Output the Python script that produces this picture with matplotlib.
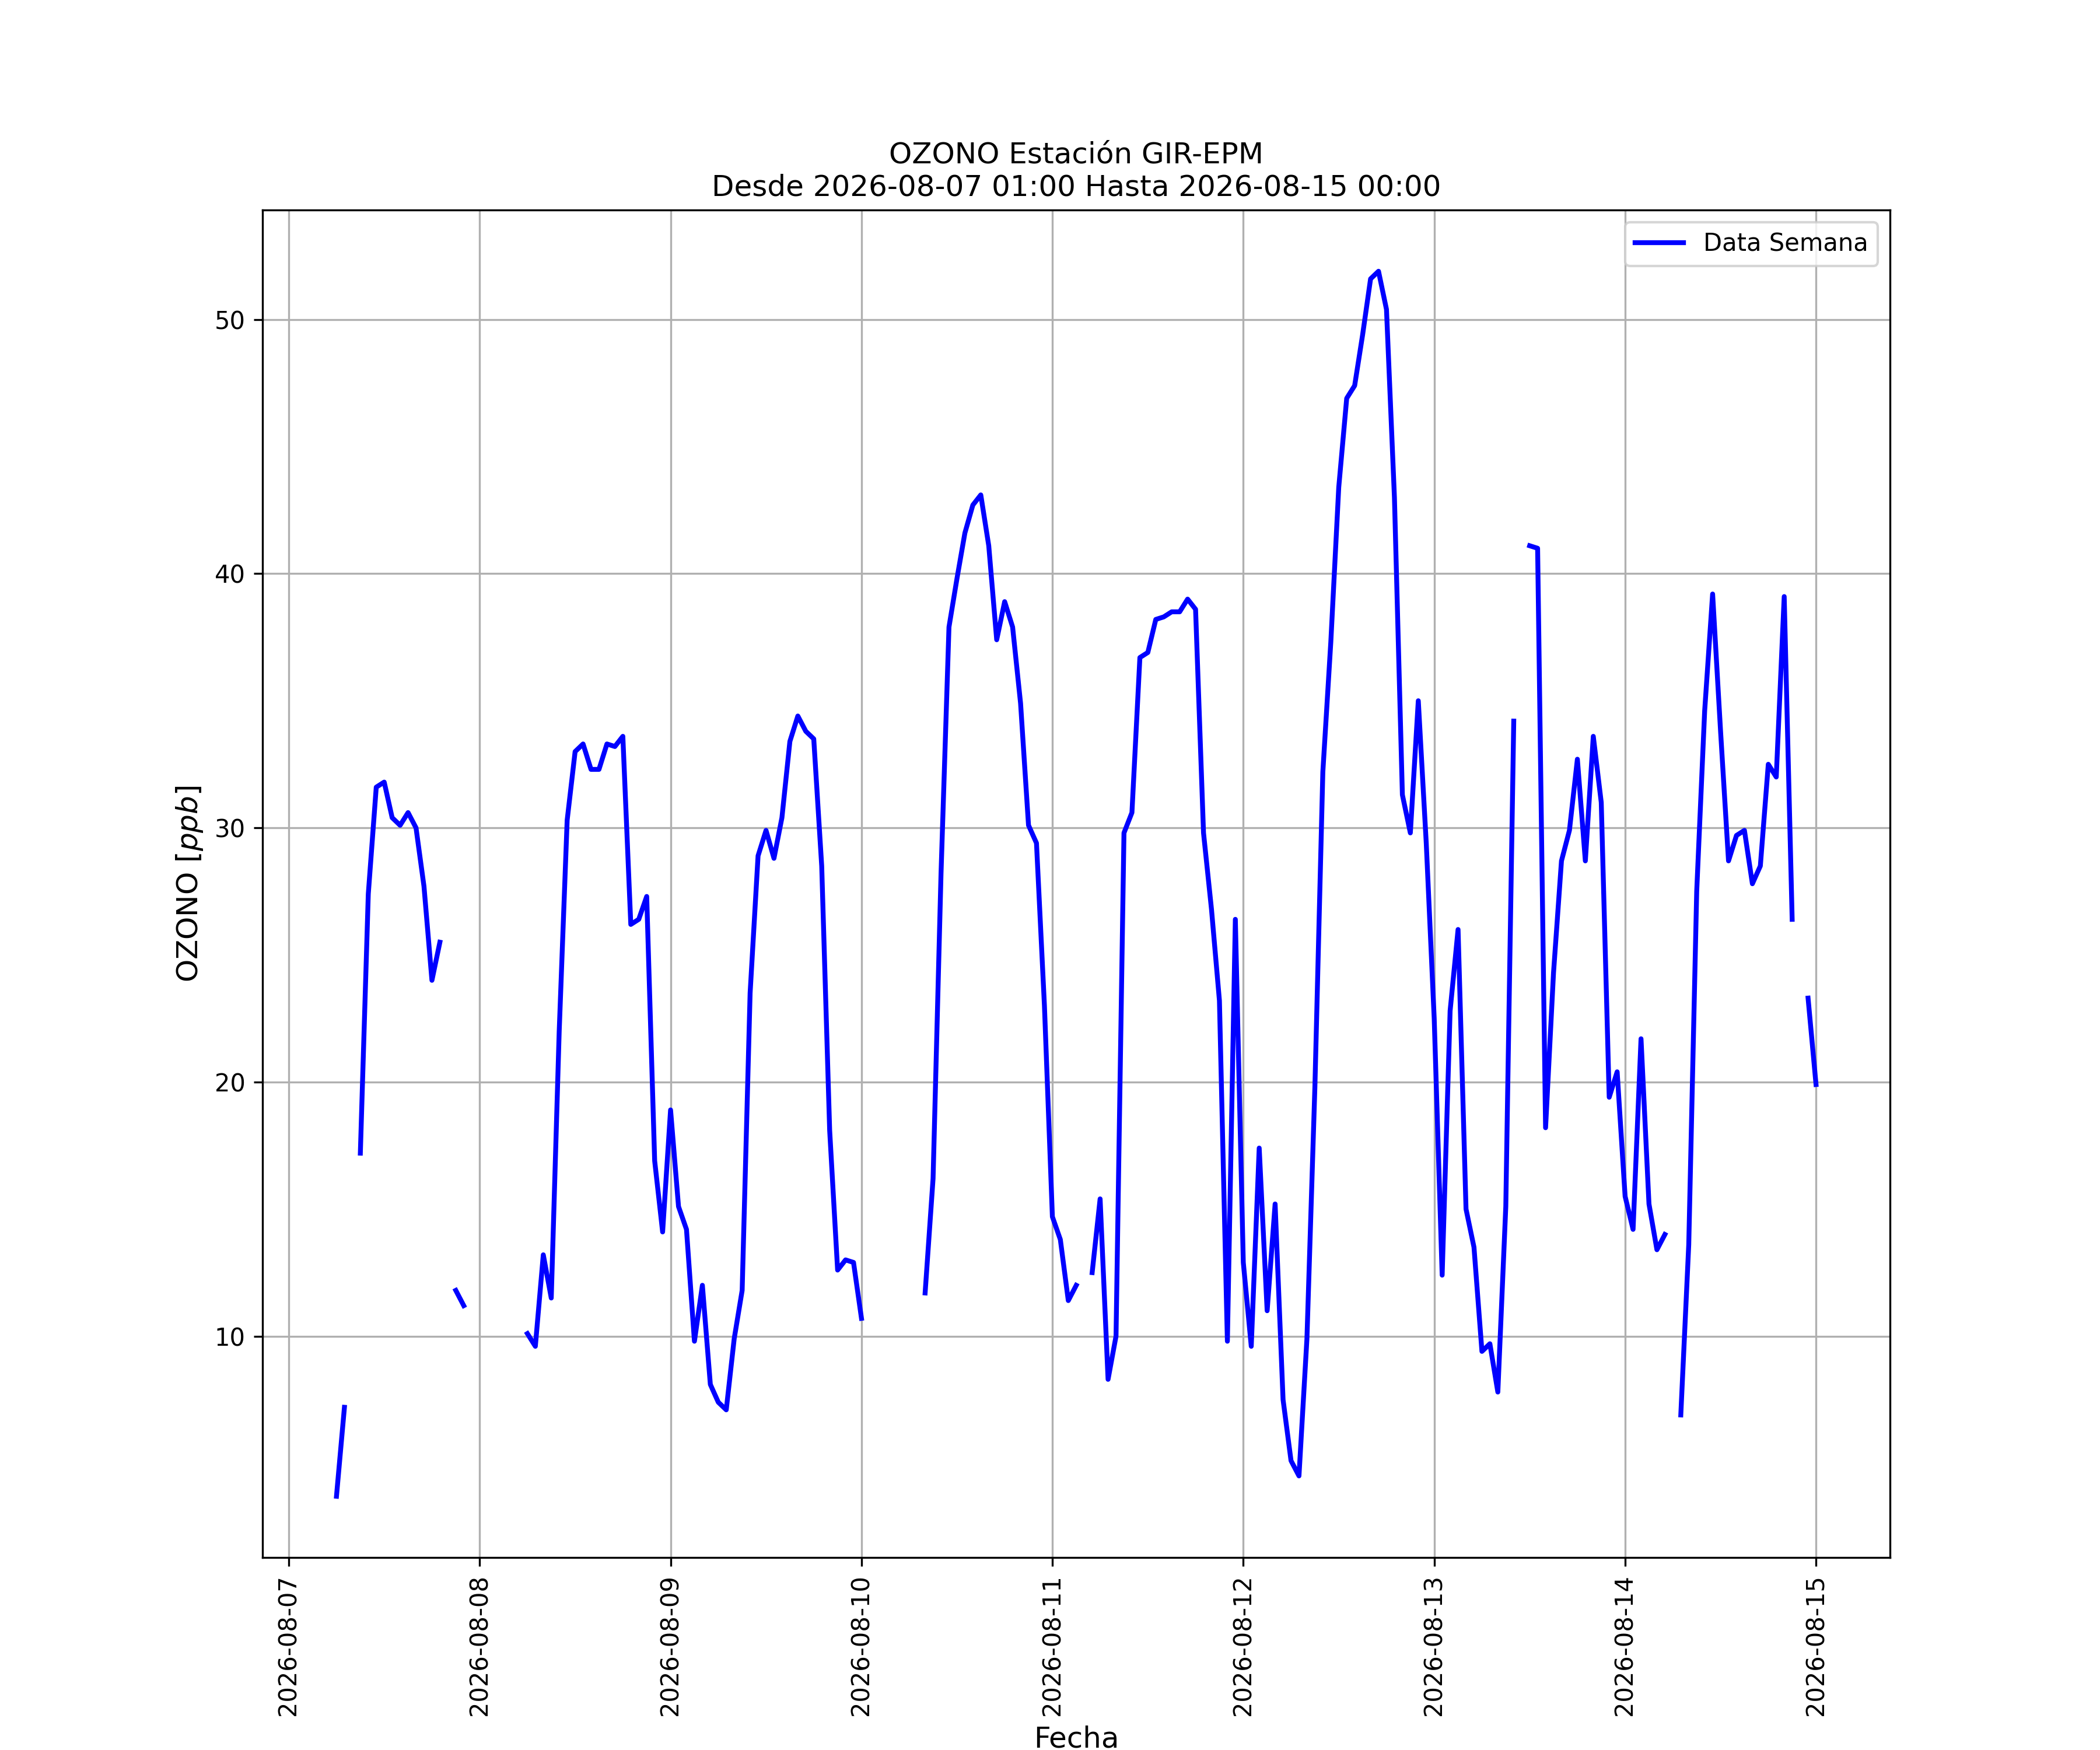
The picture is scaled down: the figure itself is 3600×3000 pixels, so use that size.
import numpy as np
import pandas as pd
import matplotlib
matplotlib.use("Agg")
import matplotlib.pyplot as plt
import matplotlib.dates as mdates

nan = np.nan

# ozono horario [ppb], una lista por dia (2026-08-07 01:00 ... 2026-08-15 00:00)
dia_07 = [nan, nan, nan, nan, nan, 3.7, 7.2, nan, 17.2, 27.4, 31.6, 31.8,
          30.4, 30.1, 30.6, 30.0, 27.7, 24.0, 25.5, nan, 11.8, 11.2, nan]
dia_08 = [nan, nan, nan, nan, nan, nan, 10.1, 9.6, 13.2, 11.5, 22.0, 30.3,
          33.0, 33.3, 32.3, 32.3, 33.3, 33.2, 33.6, 26.2, 26.4, 27.3, 16.9, 14.1]
dia_09 = [18.9, 15.1, 14.2, 9.8, 12.0, 8.1, 7.4, 7.1, 9.9, 11.8, 23.5, 28.9,
          29.9, 28.8, 30.4, 33.4, 34.4, 33.8, 33.5, 28.5, 18.1, 12.6, 13.0, 12.9]
dia_10 = [10.7, nan, nan, nan, nan, nan, nan, nan, 11.7, 16.2, 28.2, 37.9,
          39.8, 41.6, 42.7, 43.1, 41.1, 37.4, 38.9, 37.9, 34.9, 30.1, 29.4, 23.0]
dia_11 = [14.7, 13.8, 11.4, 12.0, nan, 12.5, 15.4, 8.3, 10.0, 29.8, 30.6, 36.7,
          36.9, 38.2, 38.3, 38.5, 38.5, 39.0, 38.6, 29.8, 26.8, 23.2, 9.8, 26.4]
dia_12 = [12.9, 9.6, 17.4, 11.0, 15.2, 7.5, 5.1, 4.5, 9.9, 19.8, 32.2, 37.3,
          43.4, 46.9, 47.4, 49.4, 51.6, 51.9, 50.4, 43.0, 31.3, 29.8, 35.0, 29.4]
dia_13 = [22.5, 12.4, 22.8, 26.0, 15.0, 13.5, 9.4, 9.7, 7.8, 15.1, 34.2, nan,
          41.1, 41.0, 18.2, 24.3, 28.7, 29.9, 32.7, 28.7, 33.6, 31.0, 19.4, 20.4]
dia_14 = [15.5, 14.2, 21.7, 15.2, 13.4, 14.0, nan, 6.9, 13.6, 27.5, 34.6, 39.2,
          33.8, 28.7, 29.7, 29.9, 27.8, 28.5, 32.5, 32.0, 39.1, 26.4, nan, 23.3]
dia_15 = [19.9]

ozono = dia_07 + dia_08 + dia_09 + dia_10 + dia_11 + dia_12 + dia_13 + dia_14 + dia_15
fechas = pd.date_range("2026-08-07 01:00", "2026-08-15 00:00", freq="h")

fig, ax = plt.subplots(figsize=(12, 10), dpi=300)
ax.plot(fechas, ozono, color="blue", linewidth=2, label="Data Semana")

ax.set_title("OZONO Estación GIR-EPM\nDesde 2026-08-07 01:00 Hasta 2026-08-15 00:00", fontsize=12)
ax.set_xlabel("Fecha", fontsize=12)
ax.set_ylabel("OZONO [$ppb$]", fontsize=12)
ax.xaxis.set_major_locator(mdates.DayLocator())
ax.xaxis.set_major_formatter(mdates.DateFormatter("%Y-%m-%d"))
plt.setp(ax.get_xticklabels(), rotation=90)
ax.grid(True)
ax.legend(loc="upper right")

fig.savefig("out.png", dpi=300)
